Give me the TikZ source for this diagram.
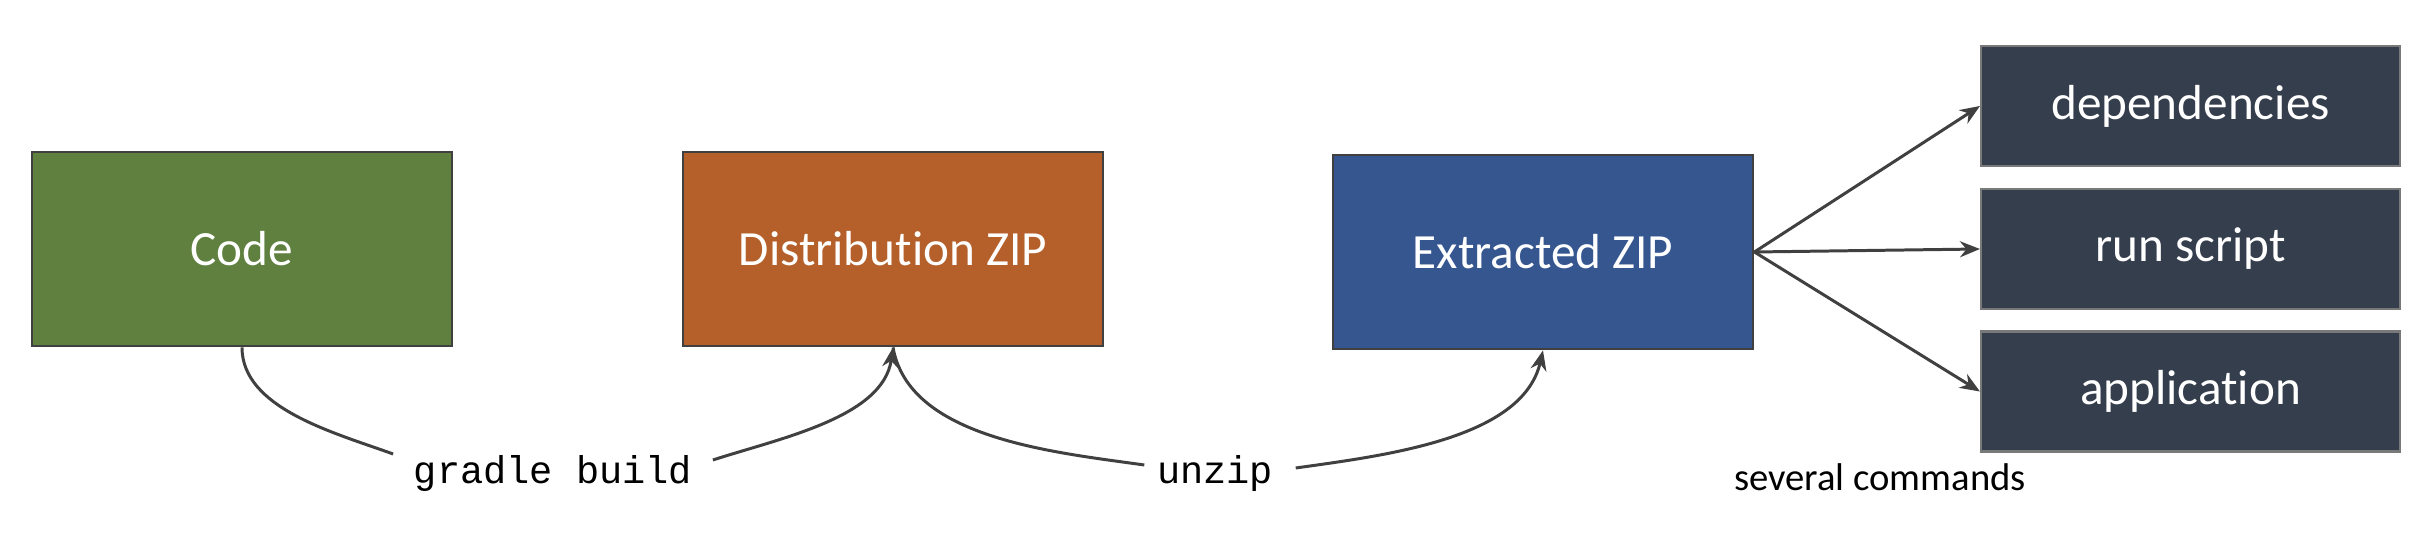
\documentclass[tikz,border=0pt]{standalone}
\usepackage{fontspec}
\setmainfont{Carlito}[Ligatures=NoCommon]
\setmonofont{Liberation Mono}
\usepackage{tikz}
\usetikzlibrary{arrows.meta,positioning}
\definecolor{codegreen}{RGB}{95, 128, 63}
\definecolor{distorange}{RGB}{181, 96, 42}
\definecolor{extblue}{RGB}{54, 86, 144}
\definecolor{partdark}{RGB}{53, 62, 76}
\definecolor{edge}{RGB}{64, 64, 64}

\begin{document}
\begin{tikzpicture}[
    stage/.style={rectangle, minimum width=4.2cm, minimum height=1.94cm,
        draw=edge, line width=0.8pt, text=white, font=\fontsize{14}{16}\selectfont},
    part/.style={rectangle, minimum width=4.19cm, minimum height=1.2cm,
        draw=edge!70, line width=0.6pt, fill=partdark, text=white,
        font=\fontsize{14}{16}\selectfont},
    cmd/.style={font=\ttfamily\fontsize{11}{13}\selectfont, inner xsep=0.2cm, inner ysep=2pt},
    flow/.style={-{Stealth[length=2mm, width=1.6mm]}, line width=0.85pt, draw=edge},
    plain/.style={line width=0.85pt, draw=edge}
]
\useasboundingbox (0,0) rectangle (24.3,5.4);

\node[stage, fill=codegreen] (code) at (2.42,2.91) {Code};
\node[stage, fill=distorange] (dist) at (8.93,2.91) {Distribution ZIP};
\node[stage, fill=extblue] (extracted) at (15.43,2.88) {Extracted ZIP};

\node[part] (deps) at (21.905,4.34) {dependencies};
\node[part] (runscript) at (21.905,2.91) {run script};
\node[part] (appl) at (21.905,1.485) {application};

\node[cmd] (gradle) at (5.53,0.66) {gradle build};
\node[cmd, inner xsep=0.12cm] (unzip) at (12.15,0.66) {unzip};
\node[font=\fontsize{11}{13}\selectfont] (several) at (18.80,0.63) {several commands};

% build and unpack
\draw[plain] (code.south) to[out=-90, in=160, looseness=0.85] ([yshift=2mm]gradle.west);
\draw[flow] ([yshift=1.4mm]gradle.east) to[out=18, in=-98, looseness=0.85] (dist.south);
\draw[plain] (dist.south) to[out=-80, in=172, looseness=0.85] ([yshift=0.9mm]unzip.west);
\draw[flow] ([yshift=0.6mm,xshift=1mm]unzip.east) to[out=8, in=-103, looseness=0.85] (extracted.south);

% contents of the extracted archive
\foreach \x in {deps,runscript,appl} {
    \draw[flow] (extracted.east) -- (\x.west);
}

\end{tikzpicture}
\end{document}
